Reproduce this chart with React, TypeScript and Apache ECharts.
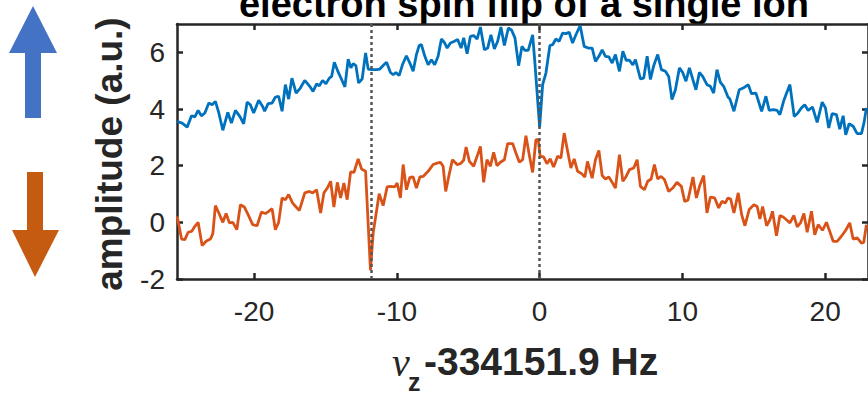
import React, { useEffect, useRef } from "react";
import * as echarts from "echarts";

const blueX = [
  -25.39, -25.04, -24.69, -24.38, -24.15, -23.92, -23.69, -23.45, -23.17, -22.94, -22.71, -22.47, -22.19, -21.84, -21.59, -21.31, -21.0, -20.73, -20.49, -20.26,
  -20.03, -19.68, -19.4, -19.26, -19.02, -18.74, -18.51, -18.28, -18.04, -17.81, -17.58, -17.35, -17.06, -16.76, -16.45, -16.1, -15.87,
  -15.62, -15.43, -15.2, -14.97, -14.73, -14.57, -14.38, -14.1, -13.87, -13.64, -13.41, -13.22, -13.06, -12.87, -12.68, -12.43, -12.19, -12.01, -11.77, -11.42,
  -11.19, -10.91, -10.72, -10.45, -10.26, -10.07, -9.84, -9.61, -9.33, -9.09, -8.86, -8.63, -8.44, -8.28, -8.04, -7.81, -7.58, -7.35, -7.11, -6.88, -6.65, -6.48, -6.25,
  -5.97, -5.74, -5.5, -5.32, -5.08, -4.85, -4.62, -4.38, -4.15, -3.87, -3.64, -3.41, -3.17, -2.94, -2.71, -2.47, -2.19, -1.96, -1.73, -1.47, -1.24, -1.03, -0.8,
  -0.49, -0.33, 0.0, 0.21, 0.44, 0.72, 0.91, 1.14, 1.37, 1.61, 1.84, 2.07, 2.31, 2.54, 2.84, 3.12, 3.4,
  3.68, 3.91, 4.15, 4.38, 4.61, 4.85, 5.08, 5.31, 5.59, 5.83, 6.06, 6.29, 6.53, 6.71, 7.06, 7.29, 7.53, 7.76, 7.99, 8.27, 8.53, 8.81, 9.04, 9.27, 9.51, 9.79,
  10.02, 10.25, 10.49, 10.72, 10.95, 11.19, 11.42, 11.72, 11.96, 12.19, 12.42, 12.66, 12.89, 13.19,
  13.33, 13.61, 13.98, 14.26, 14.61, 14.84, 15.15, 15.55, 15.85, 16.08, 16.36, 16.64, 16.83, 17.11, 17.34, 17.53, 17.83, 18.06, 18.34, 18.57, 18.81, 19.11,
  19.44, 19.79, 20.02, 20.25, 20.49, 20.79, 21.02, 21.26, 21.44, 21.68, 21.96, 22.24, 22.54, 22.72, 22.89,
];
const blueY = [
  3.56, 3.5, 3.36, 3.76, 3.72, 3.95, 3.76, 3.86, 4.21, 4.15, 4.27, 3.86, 3.25, 3.88, 3.5, 3.95, 3.74, 3.48, 4.24, 4.15,
  3.86, 4.31, 4.09, 3.92, 4.19, 4.21, 4.42, 4.45, 3.92, 4.86, 4.35, 5.09, 4.56, 4.74, 5.01, 4.8, 4.62,
  4.89, 4.82, 5.01, 4.89, 5.09, 5.15, 5.65, 5.29, 5.04, 4.78, 5.76, 5.45, 5.6, 5.53, 4.92, 5.06, 5.98, 5.41, 5.39, 5.39,
  5.41, 5.56, 5.65, 5.29, 5.21, 5.29, 5.18, 5.56, 5.88, 5.62, 5.33, 5.92, 6.24, 6.27, 5.86, 5.56, 5.74, 5.56, 5.86, 6.47, 6.33, 6.15, 6.33,
  6.39, 6.45, 6.15, 6.51, 5.95, 6.56, 6.59, 6.47, 6.89, 6.09, 6.15, 6.62, 6.12, 6.39, 6.89, 6.24, 6.86, 6.78, 6.51, 5.53, 6.21, 6.07, 6.07,
  6.62, 5.62, 3.36, 4.86, 5.27, 6.24, 6.27, 6.47, 6.39, 6.68, 6.66, 6.71, 6.33, 6.62, 6.94, 6.21, 6.15,
  6.15, 5.68, 5.86, 6.09, 5.86, 5.84, 5.62, 5.92, 5.33, 6.04, 5.72, 5.72, 5.56, 5.74, 5.06, 5.09, 5.86, 5.04, 5.53, 5.92, 5.39, 5.33, 5.15, 4.33, 4.68, 5.45,
  5.29, 4.98, 5.45, 5.06, 4.68, 5.29, 5.15, 4.86, 4.8, 4.56, 5.39, 4.94, 4.8, 4.42,
  4.35, 3.92, 4.68, 4.74, 4.86, 4.54, 4.56, 3.92, 4.45, 3.95, 3.98, 3.95, 3.8, 4.31, 4.62, 4.86, 3.74, 3.84, 4.04, 4.15, 3.95, 4.07,
  3.53, 4.24, 4.04, 3.33, 3.84, 3.8, 3.29, 3.76, 3.09, 3.48, 3.39, 3.13, 3.13, 3.51, 4.04,
];

const orangeX = [
  -25.39, -25.08, -24.85, -24.62, -24.38, -24.15, -23.92, -23.64, -23.36, -23.06, -22.89, -22.71, -22.47, -22.19, -21.96, -21.73, -21.49, -21.21, -20.96, -20.68,
  -20.42, -20.1, -19.79, -19.49, -19.21, -18.98, -18.74, -18.51, -18.28, -18.04, -17.81, -17.58, -17.3, -17.06, -16.83, -16.45, -16.13, -15.9,
  -15.62, -15.34, -15.11, -14.87, -14.64, -14.41, -14.17, -13.94, -13.71, -13.48, -13.24, -13.01, -12.71, -12.47, -12.19, -11.85, -11.66, -11.24, -10.96,
  -10.68, -10.45, -10.14, -9.98, -9.75, -9.56, -9.33, -9.09, -8.86, -8.63, -8.39, -8.16, -7.81, -7.46, -7.18, -6.95, -6.76, -6.58, -6.34, -6.11,
  -5.78, -5.55, -5.32, -5.15, -4.92, -4.62, -4.38, -4.15, -3.92, -3.69, -3.45, -3.22, -2.99, -2.75, -2.47, -2.24, -1.89, -1.66, -1.42, -1.19, -0.96, -0.73,
  -0.49, -0.26, -0.1, 0.04, 0.28, 0.51, 0.74, 0.98, 1.26, 1.49, 1.72, 1.96, 2.19, 2.42, 2.66, 2.94, 3.17, 3.35,
  3.68, 3.91, 4.15, 4.38, 4.61, 4.85, 5.08, 5.31, 5.59, 5.83, 6.06, 6.29, 6.59, 6.83, 7.06, 7.34, 7.57, 7.81, 8.04, 8.27, 8.51, 8.74, 9.04, 9.32, 9.62, 9.93,
  10.16, 10.39, 10.74, 10.98, 11.21, 11.49, 11.72, 11.96, 12.26, 12.54, 12.77, 13.0, 13.19,
  13.38, 13.61, 13.91, 14.15, 14.38, 14.68, 15.01, 15.24, 15.43, 15.62, 15.9, 16.13, 16.31, 16.59, 16.83, 17.06, 17.29, 17.53, 17.81, 18.04, 18.27, 18.51,
  18.74, 19.04, 19.27, 19.51, 19.81, 20.09, 20.32, 20.56, 20.84, 21.14, 21.44, 21.72, 21.96, 22.24, 22.54, 22.7, 22.89,
];
const orangeY = [
  0.21, -0.59, -0.61, -0.35, -0.32, -0.14, 0.0, -0.82, -0.67, -0.59, -0.4, 0.59, 0.33, 0.0, 0.31, -0.02, 0.0, -0.26, 0.62, 0.54,
  0.27, -0.08, -0.12, 0.36, 0.31, 0.39, 0.48, -0.26, 0.0, 0.86, 0.8, 0.98, 0.68, 0.54, 0.42, 1.04, 1.09, 1.04,
  1.15, 0.33, 1.04, 1.21, 1.45, 0.54, 1.41, 0.86, 1.39, 0.8, 1.78, 1.76, 2.24, 1.88, 1.8, -1.69, -0.38, 1.01, 0.59,
  1.25, 1.27, 1.25, 1.39, 0.86, 2.04, 1.15, 1.59, 1.6, 1.21, 1.6, 1.62, 1.8, 2.04, 2.09, 2.12, 1.98, 1.09, 1.68, 2.21,
  2.04, 2.07, 2.19, 2.66, 2.15, 1.98, 2.33, 2.68, 1.41, 2.21, 1.98, 2.47, 2.0, 2.12, 2.21, 2.78, 2.78, 2.45, 2.12, 2.21, 3.06, 2.39,
  1.76, 2.92, 2.92, 2.33, 2.31, 2.07, 2.24, 1.95, 2.33, 2.27, 3.15, 2.51, 1.92, 2.24, 1.8, 1.72, 1.6, 2.15,
  1.56, 2.21, 2.54, 1.65, 1.53, 1.6, 1.41, 1.21, 2.39, 1.45, 1.62, 1.86, 1.92, 2.21, 1.27, 1.15, 1.45, 1.53, 2.04, 1.53, 1.62, 1.51, 1.09, 1.21, 1.41, 1.27,
  0.74, 0.78, 1.6, 0.86, 1.29, 1.65, 0.33, 0.89, 0.86, 0.51, 0.74, 0.68, 0.86,
  0.82, 0.33, 1.04, 0.27, -0.12, 0.45, 0.62, 0.56, 0.12, 0.56, -0.12, 0.09, 0.39, -0.47, 0.24, 0.19, 0.09, -0.02, 0.24, -0.16, -0.02, 0.31,
  -0.35, 0.39, -0.44, -0.08, -0.28, 0.0, -0.32, -0.67, -0.67, -0.49, -0.28, -0.02, -0.59, -0.55, -0.73, -0.71, -0.08,
];

const xTickValues = [-20, -10, 0, 10, 20];
const yTickValues = [-2, 0, 2, 4, 6];
const resonanceLines = [-11.82, 0];
const titleText = "electron spin flip of a single ion";
const yLabelText = "amplitude (a.u.)";
const xLabelSymbol = "ν";
const xLabelSub = "z";
const xLabelRest = "-334151.9 Hz";

const FONT = '"Liberation Sans", Arial, Helvetica, sans-serif';
const AXIS = "#262626";

export default function App() {
  const ref = useRef<HTMLDivElement>(null);
  useEffect(() => {
    if (!ref.current) return;
    const chart = echarts.init(ref.current, null, { renderer: "svg" });
    const zip = (xs: number[], ys: number[]) => xs.map((x, i) => [x, ys[i]]);
    const lineCommon = { show: true, onZero: false, lineStyle: { color: AXIS, width: 2.5 } };
    const tick = (vals: number[]) => ({
      show: true,
      inside: true,
      length: 6,
      customValues: vals,
      lineStyle: { color: AXIS, width: 2.5 },
    });
    chart.setOption({
      animation: false,
      grid: { left: 177, right: -2, top: 24, height: 255 },
      xAxis: [
        {
          type: "value",
          min: -25.4,
          max: 23,
          position: "bottom",
          axisLine: lineCommon,
          axisTick: tick(xTickValues),
          axisLabel: { customValues: xTickValues, fontSize: 28, color: AXIS, fontFamily: FONT, margin: 18 },
          splitLine: { show: false },
        },
        {
          type: "value",
          min: -25.4,
          max: 23,
          position: "top",
          axisLine: lineCommon,
          axisTick: tick(xTickValues),
          axisLabel: { show: false },
          splitLine: { show: false },
        },
      ],
      yAxis: [
        {
          type: "value",
          min: -2,
          max: 7,
          position: "left",
          axisLine: lineCommon,
          axisTick: tick(yTickValues),
          axisLabel: { customValues: yTickValues, fontSize: 28, color: AXIS, fontFamily: FONT, margin: 12 },
          splitLine: { show: false },
        },
        {
          type: "value",
          min: -2,
          max: 7,
          position: "right",
          axisLine: lineCommon,
          axisTick: tick(yTickValues),
          axisLabel: { show: false },
          splitLine: { show: false },
        },
      ],
      series: [
        {
          type: "line",
          data: zip(blueX, blueY),
          showSymbol: false,
          symbol: "none",
          lineStyle: { color: "#0072BD", width: 2.8 },
          z: 2,
        },
        {
          type: "line",
          data: zip(orangeX, orangeY),
          showSymbol: false,
          symbol: "none",
          lineStyle: { color: "#D95319", width: 2.8 },
          z: 2,
          markLine: {
            silent: true,
            symbol: ["none", "none"],
            label: { show: false },
            lineStyle: { type: [3, 3], color: "#555555", width: 2.5 },
            data: resonanceLines.map((v) => ({ xAxis: v })),
            z: 5,
          },
        },
      ],
      graphic: [
        {
          type: "text",
          x: 524,
          y: 4,
          style: { text: titleText, fontSize: 38, fontWeight: "bold", fontFamily: FONT, fill: "#000", align: "center", verticalAlign: "middle" },
        },
        {
          type: "text",
          x: 109,
          y: 154,
          rotation: Math.PI / 2,
          style: { text: yLabelText, fontSize: 37, fontWeight: "bold", fontFamily: FONT, fill: AXIS, align: "center", verticalAlign: "middle" },
        },
        {
          type: "text",
          x: 392,
          y: 362,
          style: { text: xLabelSymbol, fontSize: 40, fontStyle: "italic", fontFamily: '"Liberation Serif", "DejaVu Serif", serif', fill: AXIS, align: "left", verticalAlign: "middle" },
        },
        {
          type: "text",
          x: 408,
          y: 382,
          style: { text: xLabelSub, fontSize: 25, fontWeight: "bold", fontFamily: FONT, fill: AXIS, align: "left", verticalAlign: "middle" },
        },
        {
          type: "text",
          x: 424,
          y: 361,
          style: { text: xLabelRest, fontSize: 39, fontWeight: "bold", fontFamily: FONT, fill: AXIS, align: "left", verticalAlign: "middle" },
        },
        { type: "polygon", shape: { points: [[9, 53], [57, 53], [33, 6]] }, style: { fill: "#4472C4" } },
        { type: "rect", shape: { x: 25, y: 52, width: 16, height: 66 }, style: { fill: "#4472C4" } },
        { type: "rect", shape: { x: 27, y: 172, width: 16, height: 59 }, style: { fill: "#C55A11" } },
        { type: "polygon", shape: { points: [[12, 230], [59, 230], [35, 277]] }, style: { fill: "#C55A11" } },
      ],
    });
    return () => chart.dispose();
  }, []);
  return <div ref={ref} style={{ position: "absolute", left: 0, top: 0, width: 868, height: 395 }} />;
}
